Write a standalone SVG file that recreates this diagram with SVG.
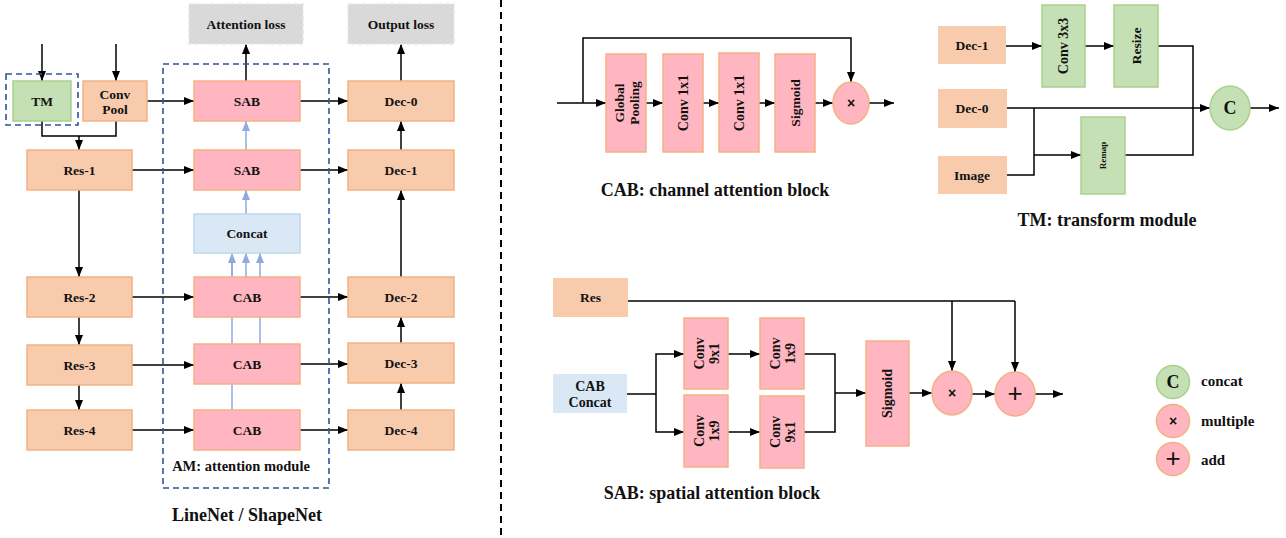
<svg xmlns="http://www.w3.org/2000/svg" width="1286" height="538" viewBox="0 0 1286 538">
<style>
text{font-family:"Liberation Serif","Times New Roman",serif;font-weight:bold;fill:#111;text-anchor:middle;dominant-baseline:central;font-size:13.5px}
.cap{font-size:18px}
.peach{fill:#F8CBAD;stroke:#F4B183;stroke-width:1.5}
.pink{fill:#FFB6C1;stroke:#F4B183;stroke-width:1.5}
.green{fill:#C5E0B4;stroke:#A9D18E;stroke-width:1.5}
.lblue{fill:#DAE8F5;stroke:#BDD7EE;stroke-width:1.5}
.lblue2{fill:#DAE8F5;stroke:none}
.gray{fill:#D9D9D9;stroke:#E6E6E6;stroke-width:1.5;stroke-dasharray:4,3}
.dash{fill:none;stroke:#2F5597;stroke-width:1.6;stroke-dasharray:6,4}
.ln{fill:none;stroke:#000;stroke-width:1.5}
.arr{fill:none;stroke:#000;stroke-width:1.5;marker-end:url(#ah)}
.barr{fill:none;stroke:#8FAADC;stroke-width:1.5;marker-end:url(#bh)}
.bln{fill:none;stroke:#8FAADC;stroke-width:1.5}
.leg{text-anchor:start;font-size:15px}
</style>
<defs>
<marker id="ah" viewBox="0 0 10 8" refX="10" refY="4" markerWidth="10" markerHeight="8" orient="auto" markerUnits="userSpaceOnUse"><path d="M0,0 L10,4 L0,8 z" fill="#000"/></marker>
<marker id="bh" viewBox="0 0 10 8" refX="10" refY="4" markerWidth="10" markerHeight="8" orient="auto" markerUnits="userSpaceOnUse"><path d="M0,0 L10,4 L0,8 z" fill="#8FAADC"/></marker>
</defs>
<rect width="1286" height="538" fill="#fff"/>

<!-- separator -->
<line x1="501" y1="0" x2="501" y2="538" stroke="#000" stroke-width="2" stroke-dasharray="7,5"/>

<!-- ===== Left panel connectors ===== -->
<g id="connectors-left">
<path class="bln" d="M232,410 V262"/>
<path class="barr" d="M232,300 V253"/>
<path class="barr" d="M260,344 V253"/>
<path class="barr" d="M246,277 V253"/>
<path class="barr" d="M246,214 V190"/>
<path class="barr" d="M246,150 V121"/>
<path class="arr" d="M42,44 V81"/>
<path class="arr" d="M116,44 V81"/>
<path class="ln" d="M42,121 V136 H116 V121"/>
<path class="arr" d="M79,136 V150"/>
<path class="arr" d="M147,101 H194"/>
<path class="arr" d="M132,170 H194"/>
<path class="arr" d="M246,81 V44"/>
<path class="arr" d="M300,101 H348"/>
<path class="arr" d="M300,170 H348"/>
<path class="arr" d="M79,190 V277"/>
<path class="arr" d="M79,317 V345"/>
<path class="arr" d="M79,385 V410"/>
<path class="arr" d="M132,297 H194"/>
<path class="arr" d="M132,365 H194"/>
<path class="arr" d="M132,430 H194"/>
<path class="arr" d="M300,297 H348"/>
<path class="arr" d="M300,364 H348"/>
<path class="arr" d="M300,430 H348"/>
<path class="arr" d="M401,410 V383"/>
<path class="arr" d="M401,343 V317"/>
<path class="arr" d="M401,277 V190"/>
<path class="arr" d="M401,150 V121"/>
<path class="arr" d="M401,81 V44"/>
</g>

<!-- dashed groups -->
<rect class="dash" x="6" y="74" width="72" height="51"/>
<rect class="dash" x="163" y="64" width="166" height="424"/>
<text x="241" y="466" style="font-size:14.5px">AM: attention module</text>
<text class="cap" x="247" y="515">LineNet / ShapeNet</text>

<g id="tm"><rect class="green" x="13" y="81" width="58" height="40"/><text x="42" y="101">TM</text></g>
<g id="convpool"><rect class="peach" x="83" y="81" width="64" height="40"/><text x="115" y="94">Conv</text><text x="115" y="109">Pool</text></g>
<g id="res1"><rect class="peach" x="27" y="150" width="105" height="40"/><text x="79.5" y="170">Res-1</text></g>
<g id="res2"><rect class="peach" x="27" y="277" width="105" height="40"/><text x="79.5" y="297">Res-2</text></g>
<g id="res3"><rect class="peach" x="27" y="345" width="105" height="40"/><text x="79.5" y="365">Res-3</text></g>
<g id="res4"><rect class="peach" x="27" y="410" width="105" height="40"/><text x="79.5" y="430">Res-4</text></g>
<g id="sab1"><rect class="pink" x="194" y="81" width="106" height="40"/><text x="247" y="101">SAB</text></g>
<g id="sab2"><rect class="pink" x="194" y="150" width="106" height="40"/><text x="247" y="170">SAB</text></g>
<g id="concat"><rect class="lblue" x="194" y="214" width="106" height="39"/><text x="247" y="233.5">Concat</text></g>
<g id="cab1"><rect class="pink" x="194" y="277" width="106" height="40"/><text x="247" y="297">CAB</text></g>
<g id="cab2"><rect class="pink" x="194" y="344" width="106" height="40"/><text x="247" y="364">CAB</text></g>
<g id="cab3"><rect class="pink" x="194" y="410" width="106" height="40"/><text x="247" y="430">CAB</text></g>
<g id="dec0"><rect class="peach" x="348" y="81" width="106" height="40"/><text x="401" y="101">Dec-0</text></g>
<g id="dec1"><rect class="peach" x="348" y="150" width="106" height="40"/><text x="401" y="170">Dec-1</text></g>
<g id="dec2"><rect class="peach" x="348" y="277" width="106" height="40"/><text x="401" y="297">Dec-2</text></g>
<g id="dec3"><rect class="peach" x="348" y="343" width="106" height="40"/><text x="401" y="363">Dec-3</text></g>
<g id="dec4"><rect class="peach" x="348" y="410" width="106" height="40"/><text x="401" y="430">Dec-4</text></g>
<g id="attloss"><rect class="gray" x="189" y="4" width="114" height="40"/><text x="246" y="24">Attention loss</text></g>
<g id="outloss"><rect class="gray" x="348" y="4" width="106" height="40"/><text x="401" y="24">Output loss</text></g>

<!-- ===== CAB panel ===== -->
<g id="connectors-cab">
<path class="arr" d="M557,103 H606"/>
<path class="arr" d="M583,103 V38 H851 V82"/>
<path class="arr" d="M646,103 H663"/>
<path class="arr" d="M703,103 H719"/>
<path class="arr" d="M759,103 H775"/>
<path class="arr" d="M815,103 H833"/>
<path class="arr" d="M869,103 H894"/>
</g>
<g id="cab-gp"><rect class="pink" x="606" y="54" width="40" height="98"/><text transform="translate(626,103) rotate(-90)"><tspan x="0" y="-7">Global</tspan><tspan x="0" y="8">Pooling</tspan></text></g>
<g id="cab-c1"><rect class="pink" x="663" y="54" width="40" height="98"/><text transform="translate(683,103) rotate(-90)" style="font-size:14px">Conv 1x1</text></g>
<g id="cab-c2"><rect class="pink" x="719" y="53" width="40" height="99"/><text transform="translate(739,103) rotate(-90)" style="font-size:14px">Conv 1x1</text></g>
<g id="cab-sig"><rect class="pink" x="775" y="54" width="40" height="98"/><text transform="translate(795,103) rotate(-90)">Sigmoid</text></g>
<g id="cab-mul"><ellipse class="pink" cx="851" cy="103" rx="18" ry="21"/><text x="851" y="103" style="font-family:'Liberation Sans',sans-serif;font-size:14px">×</text></g>
<text class="cap" x="715" y="190">CAB: channel attention block</text>

<!-- ===== TM panel ===== -->
<g id="connectors-tm">
<path class="arr" d="M1006,46 H1042"/>
<path class="arr" d="M1085,46 H1114"/>
<path class="ln" d="M1158,46 H1193 V155 H1125"/>
<path class="arr" d="M1007,108 H1210"/>
<path class="ln" d="M1034,108 V175 H1007"/>
<path class="arr" d="M1034,155 H1081"/>
<path class="arr" d="M1250,108 H1279"/>
</g>
<g id="tm-dec1"><rect class="peach" x="938" y="26" width="68" height="38" style="stroke:none"/><text x="972" y="45">Dec-1</text></g>
<g id="tm-dec0"><rect class="peach" x="938" y="89" width="69" height="39" style="stroke:none"/><text x="972" y="108.5">Dec-0</text></g>
<g id="tm-image"><rect class="peach" x="938" y="156" width="69" height="38" style="stroke:none"/><text x="972" y="175">Image</text></g>
<g id="tm-conv"><rect class="green" x="1042" y="5" width="43" height="82"/><text transform="translate(1063.5,46) rotate(-90)" style="font-size:14px">Conv 3x3</text></g>
<g id="tm-resize"><rect class="green" x="1114" y="5" width="44" height="82"/><text transform="translate(1136,46) rotate(-90)">Resize</text></g>
<g id="tm-remap"><rect class="green" x="1081" y="117" width="44" height="77"/><text transform="translate(1103,155.5) rotate(-90)" style="font-size:9px">Remap</text></g>
<g id="tm-c"><ellipse class="green" cx="1230" cy="108" rx="20" ry="22"/><text x="1230" y="108" style="font-size:18px">C</text></g>
<text class="cap" x="1107" y="220">TM: transform module</text>

<!-- ===== SAB panel ===== -->
<g id="connectors-sab">
<path class="ln" d="M628,301 H1015"/>
<path class="arr" d="M1015,301 V372"/>
<path class="arr" d="M952,301 V371"/>
<path class="ln" d="M627,394 H656"/>
<path class="arr" d="M656,394 V354 H684"/>
<path class="arr" d="M656,394 V432 H684"/>
<path class="arr" d="M728,354 H760"/>
<path class="arr" d="M728,432 H760"/>
<path class="ln" d="M804,354 H835 V432 H804"/>
<path class="arr" d="M835,393 H866"/>
<path class="arr" d="M909,393 H932"/>
<path class="arr" d="M972,394 H995"/>
<path class="arr" d="M1035,394 H1063"/>
</g>
<g id="sab-res"><rect class="peach" x="553" y="278" width="75" height="39" style="stroke:none"/><text x="590.5" y="297.5">Res</text></g>
<g id="sab-concat"><rect class="lblue2" x="553" y="374" width="74" height="39"/><text x="590" y="386" style="font-size:14px">CAB</text><text x="590" y="402" style="font-size:14px">Concat</text></g>
<g id="sab-c91a"><rect class="pink" x="684" y="318" width="44" height="71"/><text transform="translate(706,353.5) rotate(-90)" style="font-size:14px"><tspan x="0" y="-7">Conv</tspan><tspan x="0" y="8">9x1</tspan></text></g>
<g id="sab-c19a"><rect class="pink" x="760" y="318" width="44" height="71"/><text transform="translate(782,353.5) rotate(-90)" style="font-size:14px"><tspan x="0" y="-7">Conv</tspan><tspan x="0" y="8">1x9</tspan></text></g>
<g id="sab-c19b"><rect class="pink" x="684" y="395" width="44" height="72"/><text transform="translate(706,431) rotate(-90)" style="font-size:14px"><tspan x="0" y="-7">Conv</tspan><tspan x="0" y="8">1x9</tspan></text></g>
<g id="sab-c91b"><rect class="pink" x="760" y="396" width="44" height="72"/><text transform="translate(782,432) rotate(-90)" style="font-size:14px"><tspan x="0" y="-7">Conv</tspan><tspan x="0" y="8">9x1</tspan></text></g>
<g id="sab-sig"><rect class="pink" x="866" y="341" width="43" height="105"/><text transform="translate(887.5,393.5) rotate(-90)" style="font-size:14px">Sigmoid</text></g>
<g id="sab-mul"><ellipse class="pink" cx="952" cy="393" rx="20" ry="22"/><text x="952" y="393" style="font-family:'Liberation Sans',sans-serif;font-size:14px">×</text></g>
<g id="sab-add"><ellipse class="pink" cx="1015" cy="394" rx="20" ry="22"/><text x="1015" y="393" style="font-family:'Liberation Sans',sans-serif;font-weight:normal;font-size:26px">+</text></g>
<text class="cap" x="712" y="493">SAB: spatial attention block</text>

<!-- ===== Legend ===== -->
<g id="legend-concat"><circle class="green" cx="1173" cy="382" r="16.5"/><text x="1173" y="382" style="font-size:18px">C</text><text class="leg" x="1201" y="381">concat</text></g>
<g id="legend-multiple"><circle class="pink" cx="1173" cy="421" r="16.5"/><text x="1173" y="421" style="font-family:'Liberation Sans',sans-serif;font-size:14px">×</text><text class="leg" x="1201" y="421">multiple</text></g>
<g id="legend-add"><circle class="pink" cx="1173" cy="459" r="16.5"/><text x="1173" y="458" style="font-family:'Liberation Sans',sans-serif;font-weight:normal;font-size:26px">+</text><text class="leg" x="1201" y="460">add</text></g>
</svg>
